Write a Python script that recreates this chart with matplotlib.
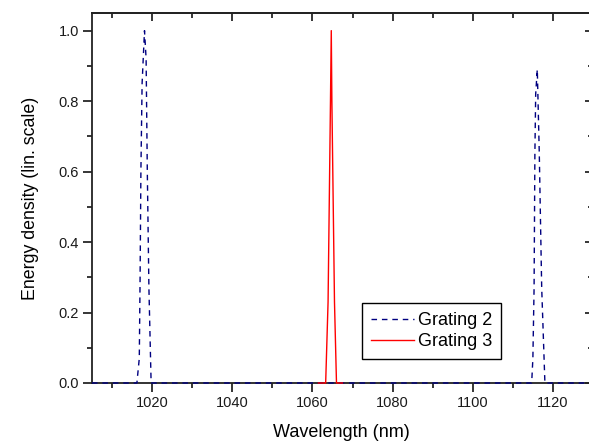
import numpy as np
import matplotlib
matplotlib.use("Agg")
from matplotlib import pyplot as plt
from matplotlib.ticker import MultipleLocator, FormatStrFormatter

plt.rcParams['font.family'] = ['Liberation Sans', 'DejaVu Sans']

# Grating 2 (dashed, two peaks)
grating2_wl = [1005, 1016.2, 1016.8, 1017.0, 1017.2, 1017.5, 1018.1, 1018.5, 1018.8, 1019.2, 1019.75,
               1114.7, 1115.0, 1115.3, 1115.5, 1115.7, 1116.1, 1116.6, 1117.2, 1118.0, 1130]
grating2_e = [0, 0, 0.07, 0.3, 0.6, 0.85, 1.0, 0.92, 0.6, 0.27, 0,
              0, 0.07, 0.27, 0.65, 0.82, 0.89, 0.65, 0.27, 0, 0]

# Grating 3 (solid red, one peak)
grating3_wl = [1061.5, 1063.3, 1063.9, 1064.5, 1064.7, 1064.85, 1065.5, 1066.0, 1067.5]
grating3_e = [0, 0, 0.23, 0.8, 1.0, 0.8, 0.23, 0, 0]

x_ticks = [1020, 1040, 1060, 1080, 1100, 1120]

fig = plt.figure(figsize=(5.89, 4.41), dpi=100)
ax = fig.add_axes([92/589, 58/441, 501/589, 370/441])

ax.plot(grating2_wl, grating2_e, color='#000080', lw=1.0, dashes=(4, 3.5),
        label='Grating 2', zorder=3, clip_on=False)
ax.plot(grating3_wl, grating3_e, color='#ff0000', lw=1.0,
        label='Grating 3', zorder=3, clip_on=False)

ax.set_xlim(1005, 1130)
ax.set_ylim(0, 1.05)
ax.set_xticks(x_ticks)
ax.xaxis.set_minor_locator(MultipleLocator(10))
ax.yaxis.set_major_locator(MultipleLocator(0.2))
ax.yaxis.set_minor_locator(MultipleLocator(0.1))
ax.yaxis.set_major_formatter(FormatStrFormatter('%.1f'))

for s in ax.spines.values():
    s.set_linewidth(1.3)
    s.set_color('#222222')

ax.tick_params(which='major', direction='out', length=6.5, width=1.1, labelsize=10.5, pad=3,
               top=False, right=False, labelcolor='#1a1a1a')
ax.tick_params(which='minor', direction='out', length=3.5, width=1.1, top=False, right=False)

# inward ticks on top and right
axt = ax.secondary_xaxis('top')
axt.set_xticks(x_ticks)
axt.xaxis.set_minor_locator(MultipleLocator(10))
axt.tick_params(which='major', direction='in', length=6, width=1.1, labeltop=False)
axt.tick_params(which='minor', direction='in', length=3.5, width=1.1)
axt.spines['top'].set_linewidth(1.3)
axt.spines['top'].set_color('#222222')
axr = ax.secondary_yaxis('right')
axr.yaxis.set_major_locator(MultipleLocator(0.2))
axr.yaxis.set_minor_locator(MultipleLocator(0.1))
axr.tick_params(which='major', direction='in', length=6, width=1.1, labelright=False)
axr.tick_params(which='minor', direction='in', length=3.5, width=1.1)

ax.set_xlabel('Wavelength (nm)', fontsize=13)
ax.set_ylabel('Energy density (lin. scale)', fontsize=12.8)
ax.xaxis.set_label_coords(0.497, -0.11)
ax.yaxis.set_label_coords(-0.106, 0.5)

leg = ax.legend(loc='lower left', bbox_to_anchor=(0.539, 0.065), borderaxespad=0,
                fontsize=13, fancybox=False, edgecolor='black', framealpha=1,
                handlelength=2.4, handletextpad=0.2, borderpad=0.5, labelspacing=0.2)
leg.get_frame().set_linewidth(1.0)

fig.savefig('out.png', dpi=100)
